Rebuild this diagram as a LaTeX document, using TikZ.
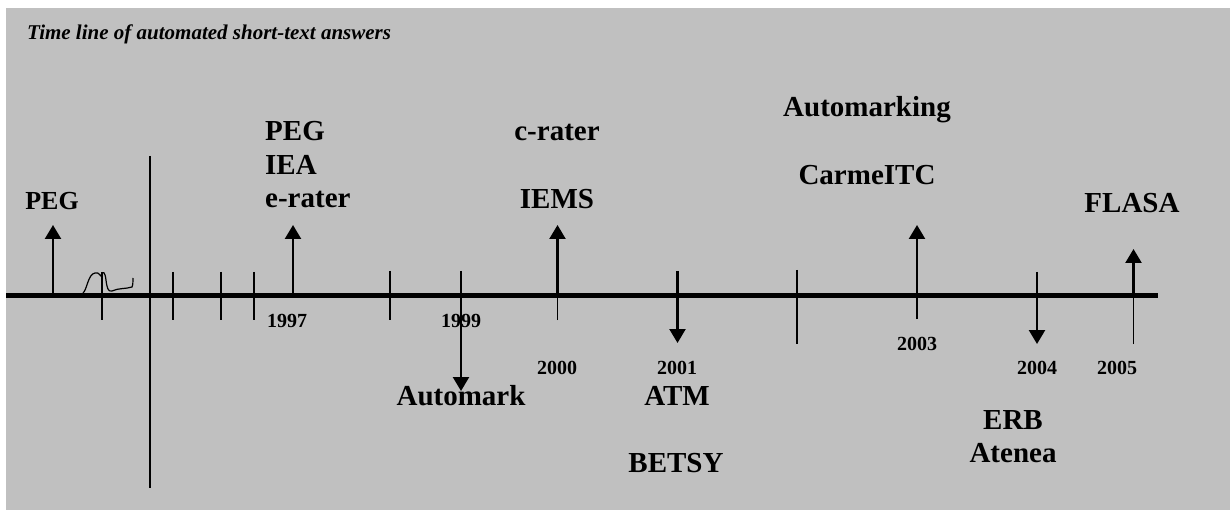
\documentclass[tikz,border=0pt]{standalone}
\usepackage{fontspec}
\setmainfont{Liberation Serif}
\usetikzlibrary{arrows.meta}
\definecolor{bggray}{HTML}{C0C0C0}
\tikzset{
  lab/.style={font=\fontsize{29}{33}\selectfont\bfseries, anchor=base, inner sep=0pt},
  leftlab/.style={font=\fontsize{26}{30}\selectfont\bfseries, anchor=base, inner sep=0pt},
  yr/.style={font=\fontsize{20}{24}\selectfont\bfseries, anchor=base, inner sep=0pt},
  ttl/.style={font=\fontsize{21}{25}\selectfont\bfseries\itshape, anchor=base west, inner sep=0pt},
  axis/.style={line width=5pt},
  tick/.style={line width=1.4pt},
  evarrow/.style={line width=2.4pt, -{Triangle[width=16pt,length=14pt]}},
}
\begin{document}
\begin{tikzpicture}[x=1pt,y=-1pt]
\useasboundingbox (0,0) rectangle (1230,510);
\fill[bggray] (6,8) rectangle (1230,510);

\node[ttl] (title) at (27,40) {Time line of automated short-text answers};

% axis
\coordinate (axL) at (6,295.5);
\coordinate (axR) at (1158,295.5);
\draw[axis] (axL) -- (axR);

% long vertical break line
\coordinate (vT) at (150,156);
\coordinate (vB) at (150,488);
\draw[line width=1.3pt] (vT) -- (vB);

% plain ticks
\foreach \n/\x/\a/\b in {t1/102/272/320, t2/173/272/320, t3/221/272/320, t4/254/272/320, t5/390/271/320, t6/797/270/344}{
  \coordinate (\n a) at (\x,\a);
  \coordinate (\n b) at (\x,\b);
  \draw[tick] (\n a) -- (\n b);
}

% squiggle
\coordinate (sq0) at (83,293);
\coordinate (sq1) at (133,278);
\draw[line width=1.2pt] (sq0) .. controls (87,290) and (88,274) .. (95,273)
  .. controls (100,272) and (99,276) .. (101,276)
  .. controls (103,270) and (105,272) .. (106,280)
  .. controls (107,288) and (108,292) .. (112,291)
  .. controls (118,288) and (126,289) .. (132,287)
  .. controls (133,285) and (133,281) .. (sq1);

% event arrows
\coordinate (a0s) at (53,296); \coordinate (a0e) at (53,225);
\draw[evarrow] (a0s) -- (a0e);
\coordinate (a97s) at (293,296); \coordinate (a97e) at (293,225);
\draw[evarrow] (a97s) -- (a97e);
\coordinate (a99s) at (461,271); \coordinate (a99e) at (461,391);
\draw[evarrow] (a99s) -- (a99e);
\coordinate (a00b) at (557.5,320); \coordinate (a00e) at (557.5,225);
\draw[tick] (a00b) -- (557.5,296);
\draw[evarrow] (557.5,296) -- (a00e);
\coordinate (a01s) at (677.5,271); \coordinate (a01e) at (677.5,343);
\draw[evarrow] (a01s) -- (a01e);
\coordinate (a03b) at (917,319); \coordinate (a03e) at (917,225);
\draw[tick] (a03b) -- (917,296);
\draw[evarrow] (917,296) -- (a03e);
\coordinate (a04s) at (1037,272); \coordinate (a04e) at (1037,344);
\draw[evarrow] (a04s) -- (a04e);
\coordinate (a05b) at (1133.5,344); \coordinate (a05e) at (1133.5,249);
\draw[tick] (a05b) -- (1133.5,296);
\draw[evarrow] (1133.5,296) -- (a05e);

% labels above
\node[leftlab] (peg0) at (52,210) {PEG};
\node[lab, anchor=base west] (peg97) at (265,141) {PEG};
\node[lab, anchor=base west] (iea97) at (265,175) {IEA};
\node[lab, anchor=base west] (erater) at (265,208) {e-rater};
\node[lab] (crater) at (557,141) {c-rater};
\node[lab] (iems) at (557,209) {IEMS};
\node[lab] (automarking) at (867,117) {Automarking};
\node[lab] (carmeitc) at (867,185) {CarmeITC};
\node[lab] (flasa) at (1132,213) {FLASA};

% years
\node[yr] (y97) at (287,327) {1997};
\node[yr] (y99) at (461,327) {1999};
\node[yr] (y00) at (557,374) {2000};
\node[yr] (y01) at (677,374) {2001};
\node[yr] (y03) at (917,350) {2003};
\node[yr] (y04) at (1037,374) {2004};
\node[yr] (y05) at (1117,374) {2005};

% labels below
\node[lab] (automark) at (461,405) {Automark};
\node[lab] (atm) at (677,405) {ATM};
\node[lab] (betsy) at (676,472) {BETSY};
\node[lab] (erb) at (1013,429) {ERB};
\node[lab] (atenea) at (1013,462) {Atenea};
\end{tikzpicture}
\end{document}
